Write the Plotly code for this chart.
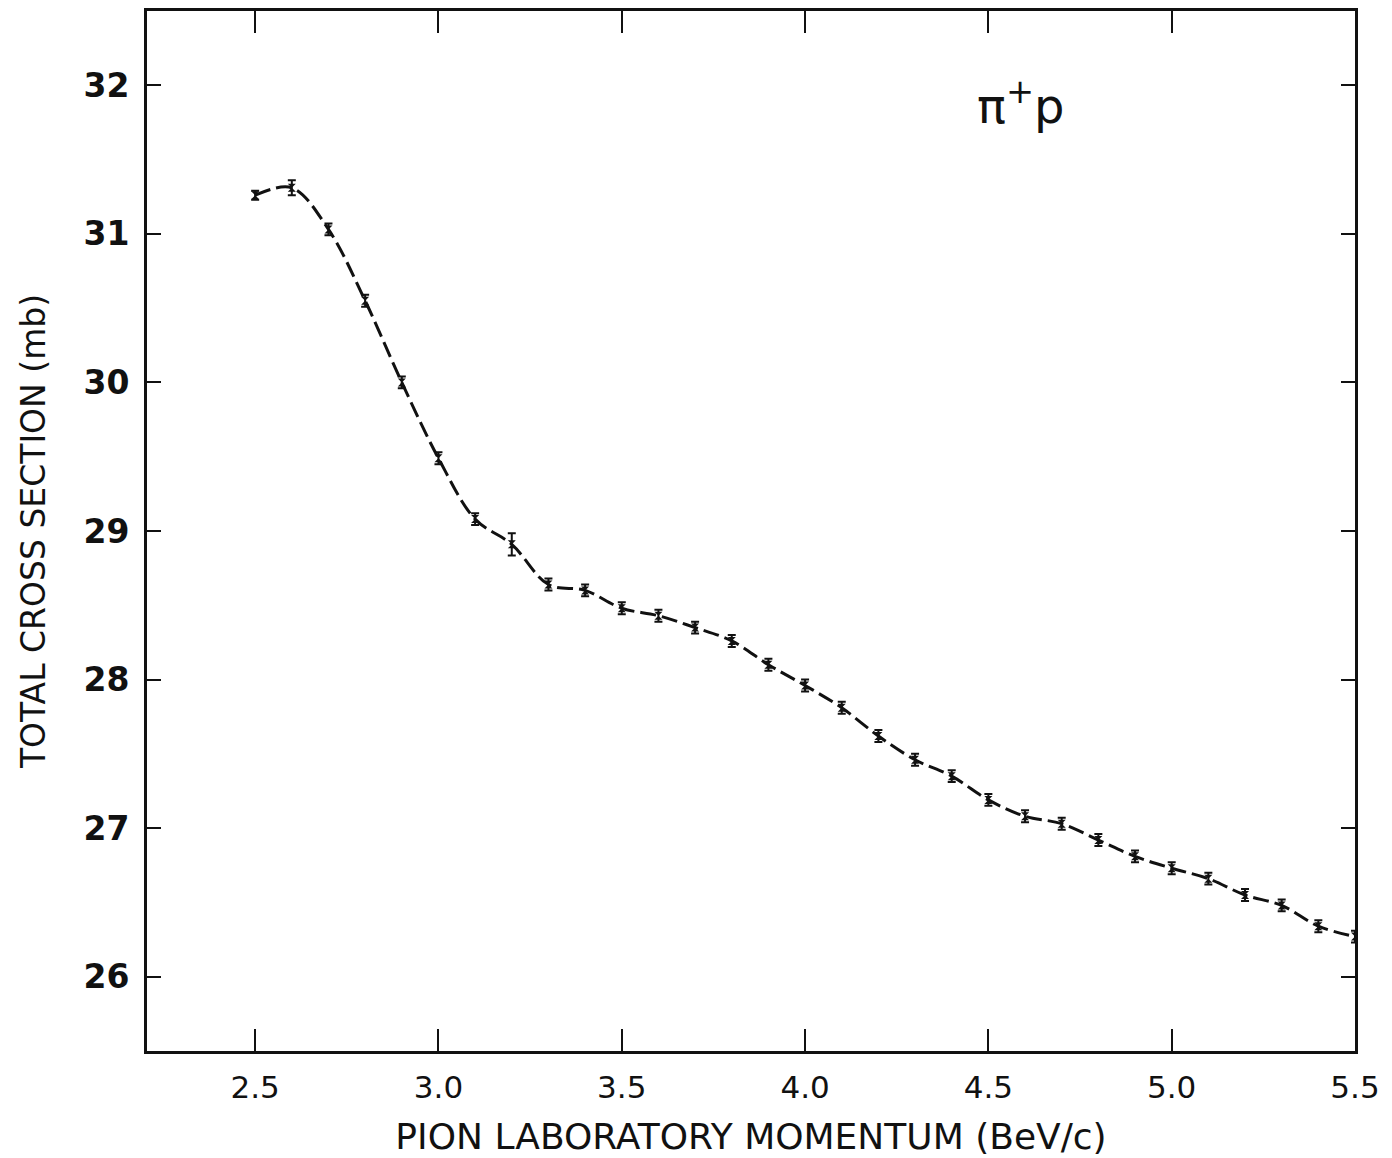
import plotly.graph_objects as go

# pi+ p total cross section versus pion laboratory momentum
momentum = [2.5, 2.6, 2.7, 2.8, 2.9, 3.0, 3.1, 3.2, 3.3, 3.4, 3.5, 3.6, 3.7, 3.8,
            3.9, 4.0, 4.1, 4.2, 4.3, 4.4, 4.5, 4.6, 4.7, 4.8, 4.9, 5.0, 5.1, 5.2,
            5.3, 5.4, 5.5]
sigma_total = [31.26, 31.31, 31.03, 30.55, 30.00, 29.49, 29.08, 28.91, 28.64, 28.60,
               28.48, 28.43, 28.35, 28.26, 28.10, 27.96, 27.81, 27.62, 27.46, 27.35,
               27.19, 27.08, 27.03, 26.92, 26.81, 26.73, 26.66, 26.55, 26.48, 26.34,
               26.27]
sigma_err = [0.03, 0.05, 0.04, 0.04, 0.04, 0.04, 0.04, 0.075, 0.04, 0.04,
             0.04, 0.04, 0.04, 0.04, 0.04, 0.04, 0.04, 0.04, 0.04, 0.04,
             0.04, 0.04, 0.04, 0.04, 0.04, 0.04, 0.04, 0.04, 0.04, 0.04,
             0.04]

x_ticks = [2.5, 3.0, 3.5, 4.0, 4.5, 5.0, 5.5]
x_tick_labels = ["2.5", "3.0", "3.5", "4.0", "4.5", "5.0", "5.5"]
y_ticks = [26, 27, 28, 29, 30, 31, 32]
y_tick_labels = ["26", "27", "28", "29", "30", "31", "32"]

INK = "#111111"
FONT = "DejaVu Sans"

fig = go.Figure()

# smooth dashed curve drawn through the measurements
fig.add_trace(go.Scatter(
    x=momentum, y=sigma_total, mode="lines",
    line=dict(color=INK, width=3, shape="spline", smoothing=1.0, dash="16px,6px"),
    hoverinfo="skip", showlegend=False,
))

# measured points with their error bars
fig.add_trace(go.Scatter(
    x=momentum, y=sigma_total, mode="markers",
    marker=dict(symbol="hourglass", size=8, color=INK),
    error_y=dict(type="data", array=sigma_err, visible=True,
                 color=INK, thickness=2, width=4),
    showlegend=False,
))

fig.add_annotation(
    x=4.59, y=31.88, xref="x", yref="y",
    text="π<sup>+</sup>p", showarrow=False,
    font=dict(family=FONT, size=48, color=INK),
)

axis_common = dict(
    showline=True, linecolor=INK, linewidth=3, mirror="allticks",
    ticks="inside", tickcolor=INK, tickwidth=2,
    showgrid=False, zeroline=False,
)

fig.update_xaxes(
    **axis_common,
    range=[2.205, 5.5], tickvals=x_ticks, ticktext=x_tick_labels, ticklen=22,
    ticklabelstandoff=7,
    tickfont=dict(family=FONT, size=31, color=INK),
    title=dict(text="PION LABORATORY MOMENTUM (BeV/c)",
               font=dict(family=FONT, size=36, color=INK), standoff=20),
)
fig.update_yaxes(
    **axis_common,
    range=[25.5, 32.5], tickvals=y_ticks, ticktext=y_tick_labels, ticklen=14,
    ticklabelstandoff=8,
    tickfont=dict(family=FONT, size=33, color=INK, weight="bold"),
    title=dict(text="TOTAL CROSS SECTION (mb)",
               font=dict(family=FONT, size=33, color=INK), standoff=28),
)

fig.update_layout(
    width=1392, height=1158,
    margin=dict(l=147, r=37, t=8, b=106),
    paper_bgcolor="white", plot_bgcolor="white",
)

fig.write_html("out.html")
